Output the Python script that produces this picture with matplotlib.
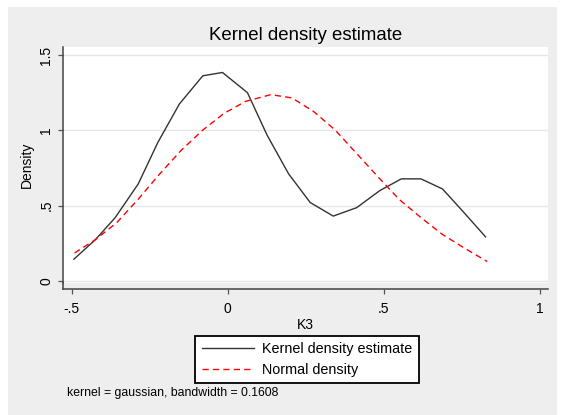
import matplotlib
matplotlib.use("Agg")
import matplotlib.pyplot as plt
from matplotlib.patches import Rectangle

plt.rcParams['font.family'] = ['Liberation Sans', 'DejaVu Sans']

# kernel density estimate
kde_x = [-0.493, -0.424, -0.361, -0.287, -0.224, -0.155, -0.080, -0.017, 0.063, 0.126,
         0.195, 0.264, 0.338, 0.413, 0.487, 0.556, 0.619, 0.688, 0.757, 0.826]
kde_y = [0.145, 0.275, 0.420, 0.644, 0.920, 1.175, 1.362, 1.384, 1.250, 0.968,
         0.711, 0.521, 0.431, 0.487, 0.600, 0.678, 0.678, 0.611, 0.454, 0.293]

# normal density overlay
norm_x = [-0.491, -0.424, -0.356, -0.287, -0.218, -0.149, -0.080, -0.011, 0.057, 0.138,
          0.206, 0.275, 0.344, 0.413, 0.482, 0.550, 0.619, 0.688, 0.757, 0.831]
norm_y = [0.186, 0.275, 0.387, 0.543, 0.711, 0.868, 1.002, 1.114, 1.192, 1.237,
          1.215, 1.125, 1.002, 0.846, 0.690, 0.540, 0.421, 0.309, 0.220, 0.130]

xticks = [-0.5, 0, 0.5, 1]
xticklabels = ['-.5', '0', '.5', '1']
yticks = [0, 0.5, 1, 1.5]
yticklabels = ['0', '.5', '1', '1.5']

W, H = 561, 415
fig = plt.figure(figsize=(W / 100, H / 100), dpi=100)
fig.patch.set_facecolor('white')
fig.patches.append(Rectangle((8 / W, 0), 549 / W, 1 - 7 / H, transform=fig.transFigure,
                             facecolor='#eeeeee', edgecolor='none', zorder=-5))

left, right, top, bottom = 63.3, 548, 46.7, 283
ax = fig.add_axes([left / W, 1 - bottom / H, (right - left) / W, (bottom - top) / H])
ax.set_facecolor('white')

ax.plot(kde_x, kde_y, color='#333333', lw=1.0, label='Kernel density estimate')
ax.plot(norm_x, norm_y, color='red', lw=1.0, dashes=(4.5, 3), label='Normal density')

ax.set_xlim(-0.527, 1.026)
ax.set_ylim(-0.013, 1.555)
ax.set_xticks(xticks)
ax.set_xticklabels(xticklabels)
ax.set_yticks(yticks)
ax.set_yticklabels(yticklabels, rotation=90, va='center')
ax.grid(axis='y', color='#e6e6e6', lw=1.0)
ax.set_axisbelow(True)

for s in ['top', 'right']:
    ax.spines[s].set_visible(False)
for s in ['left', 'bottom']:
    ax.spines[s].set_color('#444444')
    ax.spines[s].set_linewidth(1.1)
ax.spines['bottom'].set_position(('outward', 4.3))
# left axis line runs down to the offset x axis
ax.plot([0, 0], [-6 / (bottom - top), 0], transform=ax.transAxes, clip_on=False,
        color='#444444', lw=1.1)

ax.tick_params(axis='both', length=3.6, width=0.9, color='#555555', labelsize=10)
ax.tick_params(axis='x', pad=5.5)
ax.tick_params(axis='y', pad=3.5)

ax.set_xlabel('K3', fontsize=10, labelpad=1.5)
ax.set_ylabel('Density', fontsize=10, labelpad=4)
ax.set_title('Kernel density estimate', fontsize=13.4, pad=5)

leg = fig.legend(loc='upper left', bbox_to_anchor=(195 / W, 1 - 335.7 / H),
                 fontsize=10.4, frameon=True, fancybox=False, edgecolor='black',
                 framealpha=1, borderaxespad=0, handlelength=3.6, handletextpad=0.6,
                 borderpad=0.45, labelspacing=0.45)
leg.get_frame().set_linewidth(1.3)

fig.text(67 / W, 1 - 393 / H, 'kernel = gaussian, bandwidth = 0.1608', fontsize=8.8,
         va='center', ha='left')

fig.savefig('out.png', dpi=100, facecolor=fig.get_facecolor())
